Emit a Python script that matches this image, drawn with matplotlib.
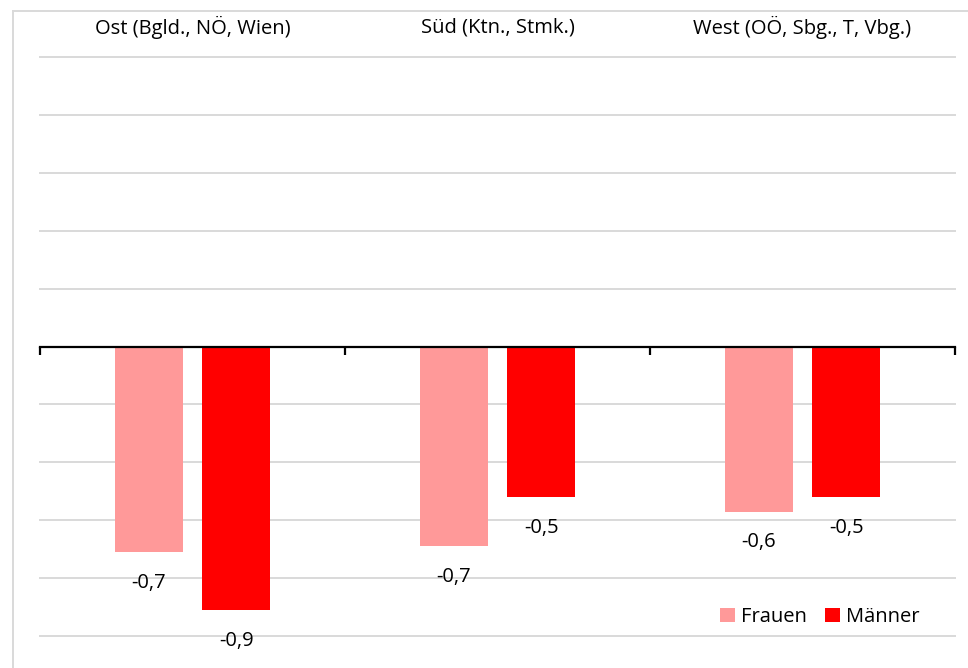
import matplotlib.pyplot as plt
import numpy as np
from matplotlib.lines import Line2D

plt.rcParams['font.family'] = ['Open Sans', 'DejaVu Sans']

# data
regionen = ['Ost (Bgld., NÖ, Wien)', 'Süd (Ktn., Stmk.)', 'West (OÖ, Sbg., T, Vbg.)']
frauen = [-0.71, -0.69, -0.57]
maenner = [-0.91, -0.52, -0.52]

W, H = 968, 668
fig = plt.figure(figsize=(W / 100, H / 100), dpi=100)
ax = fig.add_axes([40 / W, 1 - 636 / H, (955 - 40) / W, (636 - 57) / H])

x = np.arange(len(regionen))
bw = 0.223
off = 0.143
b1 = ax.bar(x - off, frauen, bw, color='#FF9999', label='Frauen', zorder=3)
b2 = ax.bar(x + off, maenner, bw, color='#FF0000', label='Männer', zorder=3)

fs = 14.5
fmt = lambda v: f'{v:.1f}'.replace('.', ',')
for bars in (b1, b2):
    ax.bar_label(bars, labels=[fmt(b.get_height()) for b in bars],
                 padding=15, fontsize=fs, color='#000000', clip_on=False)

ax.set_xlim(-0.5, 2.5)
ax.set_ylim(-1.0, 1.0)

# gridlines
for g in np.arange(-1.0, 1.01, 0.2):
    if abs(g) > 1e-9:
        ax.axhline(g, color='#D9D9D9', lw=1.4, zorder=1, clip_on=False)

for s in ['top', 'right', 'left']:
    ax.spines[s].set_visible(False)
ax.spines['bottom'].set_position(('data', 0))
ax.spines['bottom'].set_linewidth(1.6)
ax.spines['bottom'].set_zorder(4)
ax.set_yticks([])
ax.set_xticks([-0.5, 0.5, 1.5, 2.5])
ax.set_xticklabels([])
ax.tick_params(axis='x', direction='out', length=6, width=1.6)

# category labels on top
for i, r in enumerate(regionen):
    ax.text(i, 1 + 30 / (636 - 57) * 2, r, ha='center', va='center',
            fontsize=fs, color='#000000', clip_on=False)

ax.legend(loc='center right', bbox_to_anchor=(928 / W, 1 - 617 / H),
          bbox_transform=fig.transFigure, frameon=False, fontsize=fs,
          handlelength=0.75, handleheight=0.75, handletextpad=0.3,
          columnspacing=0.9, ncol=2, borderaxespad=0)

# chart area border
fig.add_artist(Line2D([12.5 / W, 12.5 / W], [0, 1 - 10.5 / H], color='#D9D9D9', lw=1.4,
                      transform=fig.transFigure))
fig.add_artist(Line2D([12.5 / W, 1], [1 - 10.5 / H, 1 - 10.5 / H], color='#D9D9D9', lw=1.4,
                      transform=fig.transFigure))

fig.savefig('out.png', dpi=100)
